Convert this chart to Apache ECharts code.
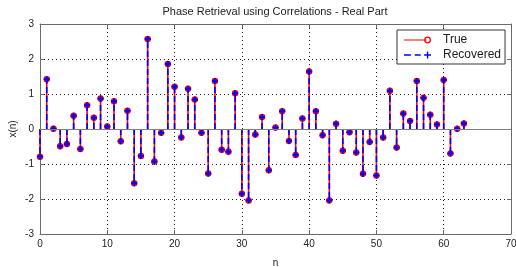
<!DOCTYPE html>
<html>
<head>
<meta charset="utf-8">
<script src="https://cdn.jsdelivr.net/npm/echarts@6/dist/echarts.min.js"></script>
<style>
  html, body { margin: 0; padding: 0; background: #fff; }
  #main-chart { width: 516px; height: 267px; }
</style>
</head>
<body>
<div id="main-chart"></div>
<script>
const trueValues = [
  -0.79, 1.42, 0.01, -0.49, -0.43, 0.38, -0.57, 0.68, 0.32, 0.87,
  0.07, 0.79, -0.35, 0.52, -1.55, -0.77, 2.57, -0.93, -0.11, 1.86,
  1.21, -0.24, 1.15, 0.84, -0.11, -1.27, 1.37, -0.59, -0.65, 1.02,
  -1.85, -2.04, -0.16, 0.34, -1.18, 0.04, 0.51, -0.34, -0.74, 0.30,
  1.64, 0.51, -0.18, -2.04, 0.15, -0.62, -0.09, -0.67, -1.28, -0.37,
  -1.33, -0.24, 1.09, -0.53, 0.44, 0.23, 1.37, 0.89, 0.41, 0.13,
  1.40, -0.70, 0.01, 0.16
]
const recoveredValues = [
  -0.79, 1.42, 0.01, -0.49, -0.43, 0.38, -0.57, 0.68, 0.32, 0.87,
  0.07, 0.79, -0.35, 0.52, -1.55, -0.77, 2.57, -0.93, -0.11, 1.86,
  1.21, -0.24, 1.15, 0.84, -0.11, -1.27, 1.37, -0.59, -0.65, 1.02,
  -1.85, -2.04, -0.16, 0.34, -1.18, 0.04, 0.51, -0.34, -0.74, 0.30,
  1.64, 0.51, -0.18, -2.04, 0.15, -0.62, -0.09, -0.67, -1.28, -0.37,
  -1.33, -0.24, 1.09, -0.53, 0.44, 0.23, 1.37, 0.89, 0.41, 0.13,
  1.40, -0.70, 0.01, 0.16
]
const xTicks = [0, 10, 20, 30, 40, 50, 60, 70]
const yTicks = [-3, -2, -1, 0, 1, 2, 3]

const FONT = '"Liberation Sans", Arial, sans-serif'
const RED = '#ff0000'
const BLUE = '#0000ff'
const AXIS_COLOR = '#6a6a6a'

// legend glyphs: solid line + ring, dashed line + plus
const TRUE_ICON = 'path://M0,3.4H23V4.6H0Z M24,0.5A3.5,3.5 0 1 1 24,7.5A3.5,3.5 0 1 1 24,0.5Z M24,1.8A2.2,2.2 0 1 0 24,6.2A2.2,2.2 0 1 0 24,1.8Z'
const REC_ICON = 'path://M0,3.3H7V4.7H0Z M11,3.3H17V4.7H11Z M20.5,3.3H27.5V4.7H20.5Z M23.3,0.5H24.7V7.5H23.3Z'

function stemRenderer(color, dashed, marker) {
  return (params, api) => {
    const x = api.value(0)
    const y = api.value(1)
    const base = api.coord([x, 0])
    const tip = api.coord([x, y])
    const children = [{
      type: 'line',
      shape: { x1: base[0], y1: base[1], x2: tip[0], y2: tip[1] },
      style: { stroke: color, lineWidth: 1.6, lineDash: dashed ? [6, 3] : null }
    }]
    if (marker === 'circle') {
      children.push({
        type: 'circle',
        shape: { cx: tip[0], cy: tip[1], r: 2.7 },
        style: { stroke: color, fill: '#4a18b0', lineWidth: 1.1 }
      })
    } else {
      children.push({
        type: 'line',
        shape: { x1: tip[0] - 3, y1: tip[1], x2: tip[0] + 3, y2: tip[1] },
        style: { stroke: color, lineWidth: 1.6 }
      }, {
        type: 'line',
        shape: { x1: tip[0], y1: tip[1] - 3, x2: tip[0], y2: tip[1] + 3 },
        style: { stroke: color, lineWidth: 1.6 }
      })
    }
    return { type: 'group', children }
  }
}

const chart = echarts.init(document.getElementById('main-chart'), null, { renderer: 'canvas' })

const valueAxis = (extra) => Object.assign({
  type: 'value',
  axisLine: { show: true, onZero: false, lineStyle: { color: AXIS_COLOR, width: 1 } },
  axisTick: { show: true, inside: true, length: 4, lineStyle: { color: AXIS_COLOR } },
  axisLabel: { color: '#222', fontFamily: FONT, fontSize: 10 },
  splitLine: { show: false }
}, extra)

chart.setOption({
  animation: false,
  backgroundColor: '#fff',
  textStyle: { fontFamily: FONT },
  grid: { left: 40, right: 5, top: 24, bottom: 33, containLabel: false, outerBoundsMode: 'none' },
  graphic: [{
    type: 'text',
    x: 275,
    y: 6,
    style: {
      text: 'Phase Retrieval using Correlations - Real Part',
      fill: '#222',
      font: '11px ' + FONT,
      textAlign: 'center'
    }
  }],
  legend: {
    left: 397,
    top: 30,
    orient: 'vertical',
    backgroundColor: '#fff',
    borderColor: '#333',
    borderWidth: 1,
    borderRadius: 0,
    padding: [4, 4, 3, 7],
    itemGap: 3,
    itemWidth: 27,
    itemHeight: 8,
    textStyle: { fontFamily: FONT, fontSize: 12, color: '#222', padding: [0, 0, 0, 7] },
    data: [
      { name: 'True', icon: TRUE_ICON, itemStyle: { color: RED } },
      { name: 'Recovered', icon: REC_ICON, itemStyle: { color: BLUE } }
    ]
  },
  xAxis: [
    valueAxis({
      min: 0, max: 70, interval: 10,
      position: 'bottom',
      name: 'n',
      nameLocation: 'middle',
      nameGap: 24,
      nameTextStyle: { fontFamily: FONT, fontSize: 10, color: '#222' },
      axisLabel: {
        color: '#222', fontFamily: FONT, fontSize: 10, margin: 5,
        customValues: xTicks
      },
      axisTick: { show: true, inside: true, length: 4, lineStyle: { color: AXIS_COLOR }, customValues: xTicks },
      splitLine: { show: true, lineStyle: { color: '#222', type: [1, 3], width: 1 } }
    }),
    valueAxis({
      min: 0, max: 70, interval: 10,
      position: 'top',
      axisLabel: { show: false }
    })
  ],
  yAxis: [
    valueAxis({
      min: -3, max: 3, interval: 1,
      position: 'left',
      name: 'x(n)',
      nameLocation: 'middle',
      nameGap: 22,
      nameMoveOverlap: false,
      nameTextStyle: { fontFamily: FONT, fontSize: 10, color: '#222' },
      axisLabel: { color: '#222', fontFamily: FONT, fontSize: 10, margin: 6, customValues: yTicks },
      splitLine: { show: true, lineStyle: { color: '#222', type: [1, 3], width: 1 } }
    }),
    valueAxis({
      min: -3, max: 3, interval: 1,
      position: 'right',
      axisLabel: { show: false }
    })
  ],
  series: [
    {
      name: 'True',
      type: 'custom',
      itemStyle: { color: RED },
      renderItem: stemRenderer(RED, false, 'circle'),
      data: trueValues.map((v, i) => [i, v]),
      markLine: {
        silent: true,
        symbol: 'none',
        label: { show: false },
        lineStyle: { color: '#7f7f7f', type: 'solid', width: 1.2 },
        data: [{ yAxis: 0 }]
      },
      z: 2
    },
    {
      name: 'Recovered',
      type: 'custom',
      itemStyle: { color: BLUE },
      renderItem: stemRenderer(BLUE, true, 'plus'),
      data: recoveredValues.map((v, i) => [i, v]),
      z: 3
    }
  ]
})
</script>
</body>
</html>
